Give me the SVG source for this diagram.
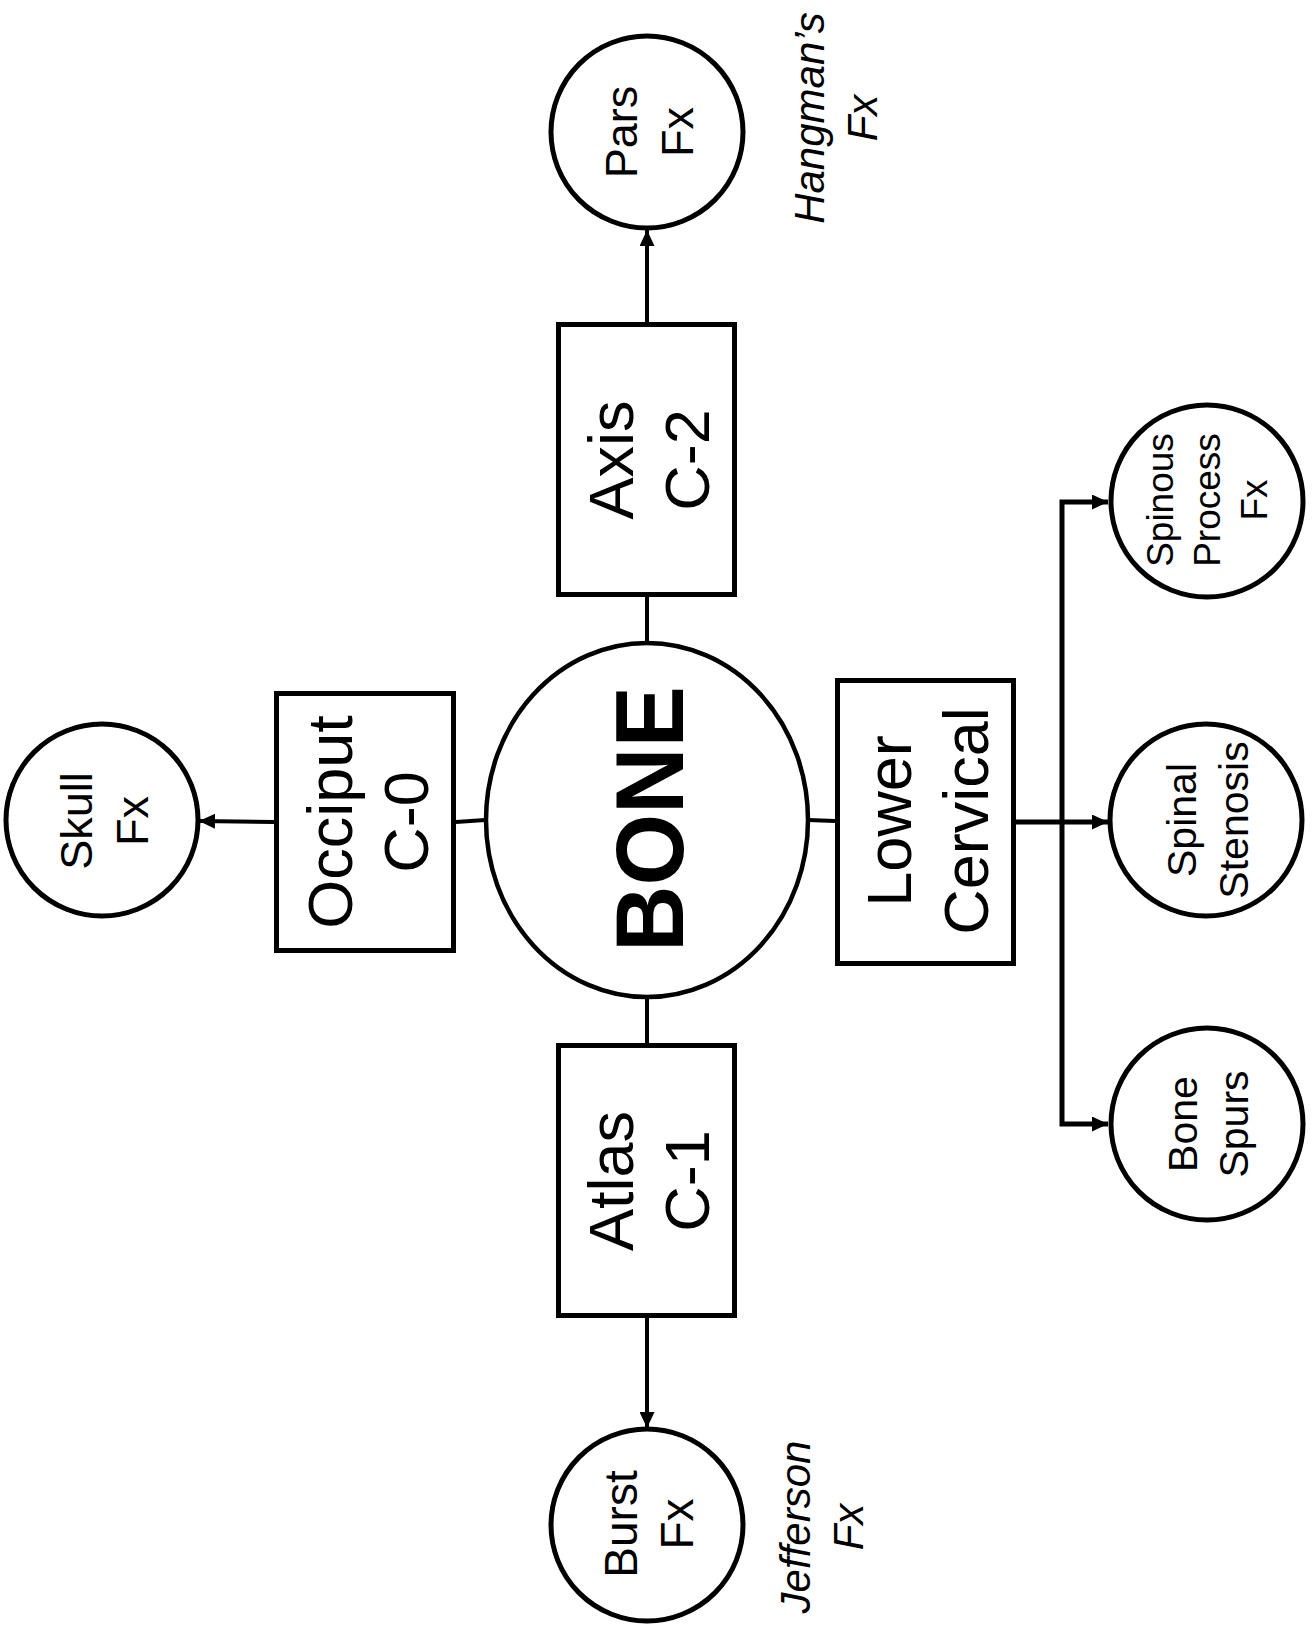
<svg xmlns="http://www.w3.org/2000/svg" width="1316" height="1630" viewBox="0 0 1316 1630">
<defs>
<marker id="arrow" markerUnits="userSpaceOnUse" markerWidth="17" markerHeight="15" refX="16" refY="7.5" orient="auto">
<path d="M0,0 L16,7.5 L0,15 z" fill="#000"/>
</marker>
<style>
.box{fill:#fff;stroke:#000;stroke-width:5}
.circ{fill:#fff;stroke:#000;stroke-width:5}
.link{fill:none;stroke:#000;stroke-width:4}
.arr{fill:none;stroke:#000;stroke-width:4;marker-end:url(#arrow)}
.t{font-family:"Liberation Sans",Arial,Helvetica,sans-serif;fill:#000;text-anchor:middle}
.it{font-style:italic}
</style>
</defs>
<rect width="1316" height="1630" fill="#fff"/>
<g id="connectors">
<line class="arr" x1="647" y1="322" x2="647" y2="230"/>
<line class="link" x1="647" y1="643" x2="647" y2="597"/>
<line class="link" x1="647" y1="997" x2="647" y2="1043"/>
<line class="arr" x1="647" y1="1318" x2="647" y2="1428"/>
<line class="arr" x1="274" y1="822" x2="199" y2="821"/>
<line class="link" x1="485" y1="820" x2="456" y2="822"/>
<line class="link" x1="808" y1="820" x2="835" y2="821"/>
<line class="arr" style="stroke-width:5" x1="1016" y1="822" x2="1108" y2="822"/>
<path class="arr" style="stroke-width:5" d="M1062,822 V502 H1108"/>
<path class="arr" style="stroke-width:5" d="M1062,822 V1124 H1108"/>
</g>
<g id="pars">
<circle class="circ" cx="647" cy="132" r="96"/>
<text class="t" font-size="45" transform="translate(637,132) rotate(-90)"><tspan x="0" y="0">Pars</tspan><tspan x="0" dy="56">Fx</tspan></text>
</g>
<g id="hangman">
<text class="t it" font-size="42" transform="translate(824,118) rotate(-90)"><tspan x="0" y="0">Hangman’s</tspan><tspan x="0" dy="53">Fx</tspan></text>
</g>
<g id="axis">
<rect class="box" x="558.5" y="324.5" width="176" height="270"/>
<text class="t" font-size="63" transform="translate(633,460) rotate(-90)"><tspan x="0" y="0">Axis</tspan><tspan x="0" dy="76">C-2</tspan></text>
</g>
<g id="skull">
<circle class="circ" cx="102" cy="820" r="96"/>
<text class="t" font-size="45" transform="translate(92,821) rotate(-90)"><tspan x="0" y="0">Skull</tspan><tspan x="0" dy="56">Fx</tspan></text>
</g>
<g id="occiput">
<rect class="box" x="276.5" y="693.5" width="177" height="257"/>
<text class="t" font-size="63" transform="translate(352,822) rotate(-90)"><tspan x="0" y="0">Occiput</tspan><tspan x="0" dy="76">C-0</tspan></text>
</g>
<g id="bone">
<ellipse class="circ" style="stroke-width:4.5" cx="647" cy="820" rx="161" ry="177"/>
<text class="t" font-size="97" font-weight="bold" transform="translate(683,819) rotate(-90)" textLength="266" lengthAdjust="spacingAndGlyphs">BONE</text>
</g>
<g id="lower-cervical">
<rect class="box" x="837.5" y="680.5" width="176" height="283"/>
<text class="t" font-size="63" transform="translate(911,821) rotate(-90)"><tspan x="0" y="0">Lower</tspan><tspan x="0" dy="77">Cervical</tspan></text>
</g>
<g id="spinous">
<circle class="circ" cx="1207" cy="501" r="96"/>
<text class="t" font-size="37" transform="translate(1173,500) rotate(-90)"><tspan x="0" y="0">Spinous</tspan><tspan x="0" dy="47">Process</tspan><tspan x="0" dy="47">Fx</tspan></text>
</g>
<g id="stenosis">
<circle class="circ" cx="1206" cy="820" r="96"/>
<text class="t" font-size="41" transform="translate(1196,820) rotate(-90)"><tspan x="0" y="0">Spinal</tspan><tspan x="0" dy="52">Stenosis</tspan></text>
</g>
<g id="spurs">
<circle class="circ" cx="1207" cy="1124" r="96"/>
<text class="t" font-size="41" transform="translate(1197,1124) rotate(-90)"><tspan x="0" y="0">Bone</tspan><tspan x="0" dy="51">Spurs</tspan></text>
</g>
<g id="atlas">
<rect class="box" x="558.5" y="1045.5" width="176" height="270"/>
<text class="t" font-size="63" transform="translate(633,1181) rotate(-90)"><tspan x="0" y="0">Atlas</tspan><tspan x="0" dy="76">C-1</tspan></text>
</g>
<g id="burst">
<circle class="circ" cx="647" cy="1525" r="96"/>
<text class="t" font-size="46" transform="translate(637,1524) rotate(-90)"><tspan x="0" y="0">Burst</tspan><tspan x="0" dy="56">Fx</tspan></text>
</g>
<g id="jefferson">
<text class="t it" font-size="42" transform="translate(810,1527) rotate(-90)"><tspan x="0" y="0">Jefferson</tspan><tspan x="0" dy="53">Fx</tspan></text>
</g>
</svg>
